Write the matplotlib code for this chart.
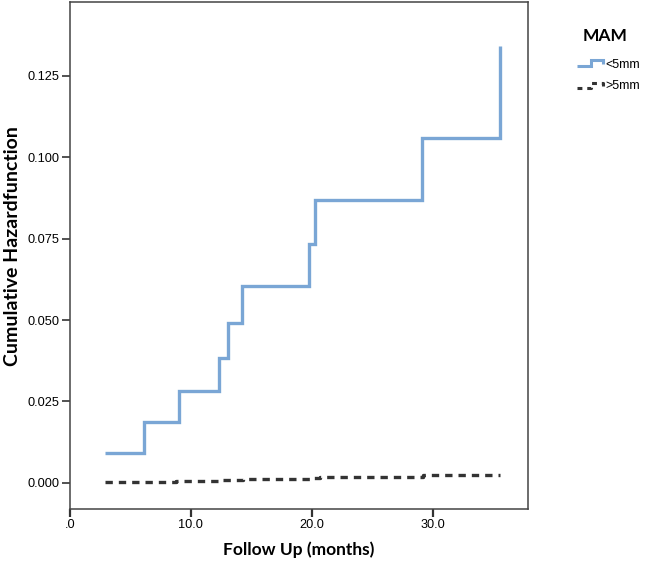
import matplotlib
matplotlib.use("Agg")
import matplotlib.pyplot as plt
from matplotlib.lines import Line2D

# Data
series_names = ["<5mm", ">5mm"]
t_small = [2.9, 6.1, 9.0, 12.35, 13.1, 14.2, 19.75, 20.25, 29.15, 35.6]
h_small = [0.0093, 0.0187, 0.0281, 0.0383, 0.0492, 0.0603, 0.0734, 0.0867, 0.1059, 0.1342]
t_large = [2.9, 5.9, 8.8, 12.4, 14.3, 19.9, 20.7, 29.2, 35.6]
h_large = [0.0002, 0.0003, 0.0005, 0.0008, 0.0012, 0.0016, 0.0019, 0.0023, 0.0023]
x_ticks = [0, 10, 20, 30]
x_tick_labels = [".0", "10.0", "20.0", "30.0"]
y_ticks = [0.0, 0.025, 0.05, 0.075, 0.1, 0.125]
y_tick_labels = ["0.000", "0.025", "0.050", "0.075", "0.100", "0.125"]

blue = "#7aa6d5"
dark = "#333333"

fig = plt.figure(figsize=(6.49, 5.62), dpi=100)
ax = fig.add_axes([0.1074, 0.0943, 0.7066, 0.9021])

ax.step(t_small, h_small, where="post", color=blue, lw=2.4,
        solid_capstyle="butt", solid_joinstyle="miter")
ax.step(t_large, h_large, where="post", color=dark, lw=2.4,
        linestyle=(0, (2.2, 1.8)), dash_capstyle="butt")

ax.set_xlim(0, 37.9)
ax.set_ylim(-0.008, 0.1476)
ax.set_xticks(x_ticks)
ax.set_xticklabels(x_tick_labels, fontsize=9.2, family="Liberation Sans")
ax.set_yticks(y_ticks)
ax.set_yticklabels(y_tick_labels, fontsize=9.2, family="Liberation Sans")
ax.tick_params(axis="y", length=6, width=1.2, color=dark, pad=1.5)
ax.tick_params(axis="x", length=6, width=1.6, color=dark, pad=1.5)
for s in ax.spines.values():
    s.set_color("#444444")
    s.set_linewidth(1.1)

ax.set_xlabel("Follow Up (months)", fontsize=12.5, fontweight="bold",
              family="Lato", labelpad=7)
ax.set_ylabel("Cumulative Hazardfunction", fontsize=14, fontweight="bold",
              family="Lato")
ax.yaxis.set_label_coords(-0.106, 0.519)

# Legend (custom, like SPSS)
W, H = 649.0, 562.0
def fx(px):
    return px / W
def fy(py):
    return 1 - py / H

fig.text(fx(605), fy(36), "MAM", fontsize=12.5, fontweight="bold", family="Lato",
         ha="center", va="center")
fig.add_artist(Line2D([fx(577), fx(591), fx(591), fx(603), fx(603)],
                      [fy(66), fy(66), fy(60), fy(60), fy(64)],
                      color=blue, lw=2.2, solid_joinstyle="miter",
                      solid_capstyle="butt", transform=fig.transFigure))
fig.add_artist(Line2D([fx(577), fx(591), fx(591), fx(603), fx(603)],
                      [fy(88), fy(88), fy(83), fy(83), fy(86)],
                      color=dark, lw=2.2, linestyle=(0, (1.6, 1.6)),
                      transform=fig.transFigure))
fig.text(fx(605), fy(65), series_names[0], fontsize=9, family="Liberation Sans",
         ha="left", va="center")
fig.text(fx(605), fy(86), series_names[1], fontsize=9, family="Liberation Sans",
         ha="left", va="center")

fig.savefig("out.png", dpi=100)
